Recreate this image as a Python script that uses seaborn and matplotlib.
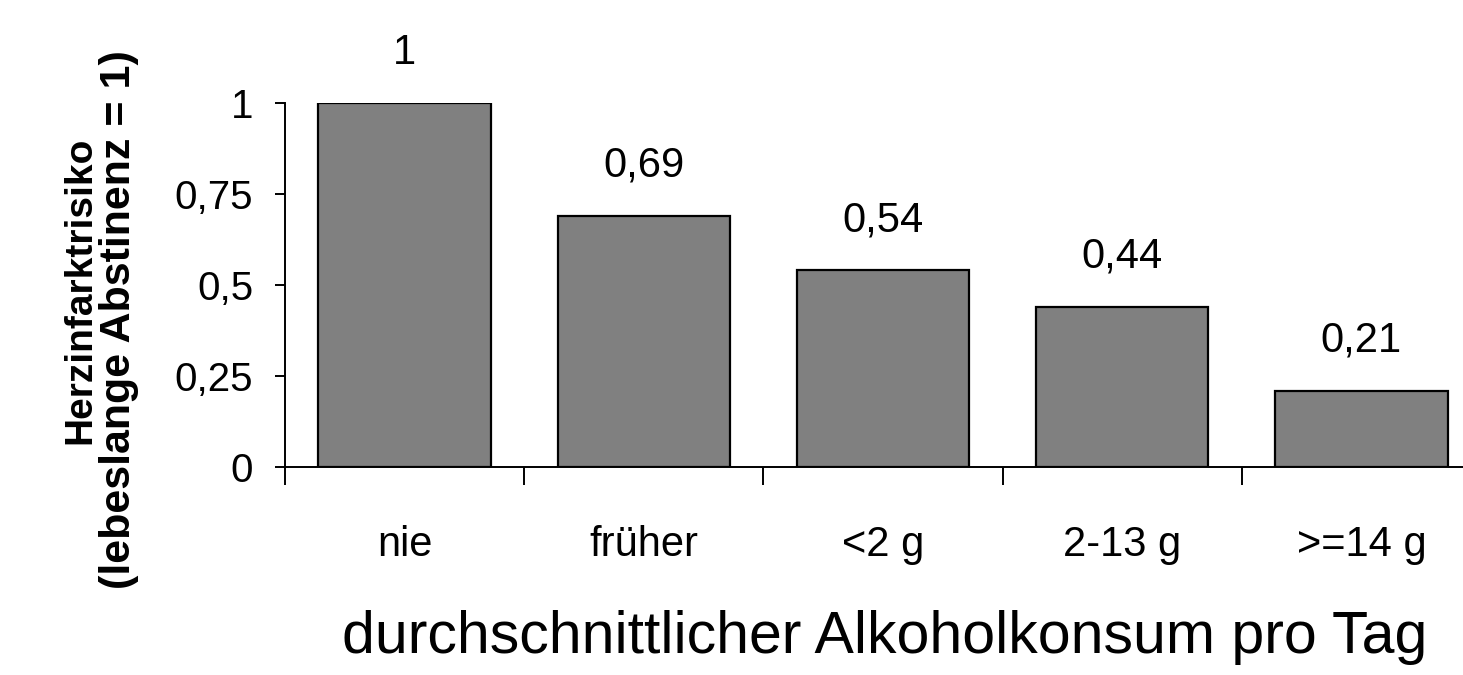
import matplotlib
matplotlib.use("Agg")
import matplotlib.pyplot as plt
import seaborn as sns
import pandas as pd

# Daily alcohol intake groups and relative myocardial infarction risk
categories = ["nie", "früher", "<2 g", "2-13 g", ">=14 g"]
risk = [1.0, 0.69, 0.54, 0.44, 0.21]
y_ticks = [0, 0.25, 0.5, 0.75, 1.0]
y_tick_labels = ["0", "0,25", "0,5", "0,75", "1"]

sns.set_theme(style="white")
plt.rcParams["font.family"] = ["Liberation Sans", "DejaVu Sans"]

df = pd.DataFrame({"Konsum": categories, "Risiko": risk})

fig = plt.figure(figsize=(14.63, 6.75), dpi=100)
ax = fig.add_axes([0.1948, 0.3081, 0.8175, 0.5393])

sns.barplot(data=df, x="Konsum", y="Risiko", color="#808080", saturation=1,
            edgecolor="black", linewidth=1.6, width=0.72, ax=ax)

ax.set_xlim(-0.5, len(categories) - 0.5)
ax.set_ylim(0, 1)

# y axis
ax.set_yticks(y_ticks)
ax.set_yticklabels(y_tick_labels)
ax.tick_params(axis="y", direction="out", length=7, width=1.4, pad=16,
               labelsize=29, colors="black", left=True)

# x axis: tick marks between categories, labels centred under bars
ax.set_xticks([i - 0.5 for i in range(len(categories) + 1)])
ax.set_xticklabels([])
ax.set_xticks(range(len(categories)), minor=True)
ax.set_xticklabels(categories, minor=True)
ax.tick_params(axis="x", which="major", direction="out", length=13, width=1.4,
               bottom=True, colors="black")
ax.tick_params(axis="x", which="minor", length=0, pad=42, labelsize=30,
               colors="black")

for s in ["top", "right"]:
    ax.spines[s].set_visible(False)
for s in ["left", "bottom"]:
    ax.spines[s].set_color("black")
    ax.spines[s].set_linewidth(1.4)

# value labels above bars
for i, v in enumerate(risk):
    txt = f"{v:g}".replace(".", ",")
    ax.annotate(txt, xy=(i, v), xytext=(0, 28), textcoords="offset points",
                ha="center", va="baseline", fontsize=30, color="black",
                annotation_clip=False)

ax.set_xlabel("")
ax.set_ylabel("")

fig.text(0.605, 0.015, "durchschnittlicher Alkoholkonsum pro Tag",
         ha="center", va="bottom", fontsize=42.5, color="black")
fig.text(0.055, 0.57, "Herzinfarktrisiko", rotation=90, ha="center",
         va="center", fontsize=28, fontweight="bold", color="black")
fig.text(0.081, 0.526, "(lebeslange Abstinenz = 1)", rotation=90,
         ha="center", va="center", fontsize=31, fontweight="bold",
         color="black")

fig.savefig("out.png", dpi=100, facecolor="white")
